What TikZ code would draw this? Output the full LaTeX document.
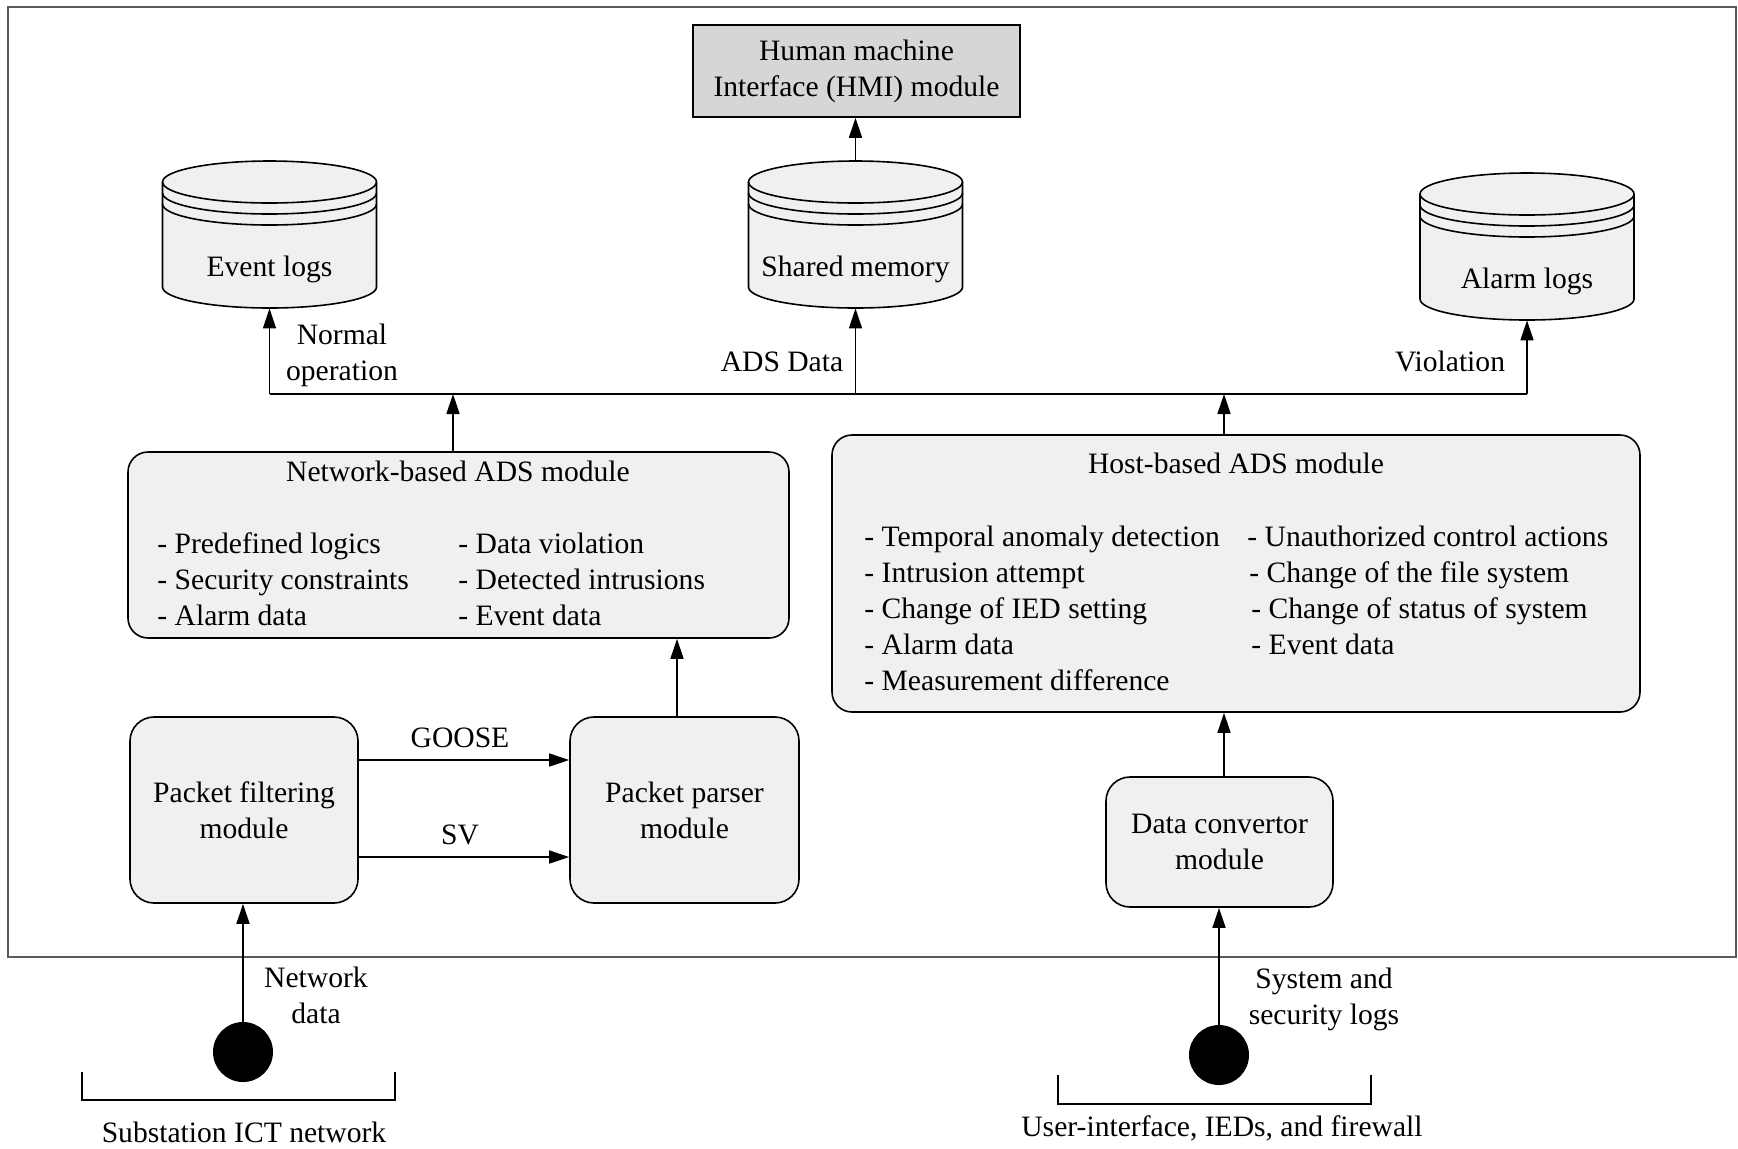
\documentclass[tikz,border=0pt]{standalone}
\usepackage{fontspec}
\setmainfont{Liberation Serif}
\usetikzlibrary{arrows.meta,calc}
\definecolor{boxfill}{HTML}{F0F0F0}
\definecolor{hmifill}{HTML}{D6D6D6}
\definecolor{framecol}{HTML}{5A5A5A}
\tikzset{
 box/.style={draw, line width=0.8pt, fill=boxfill, rounded corners=10pt, inner sep=0pt},
 arr/.style={line width=0.8pt, -{Triangle[length=10pt,width=6.5pt]}},
 conn/.style={line width=0.8pt},
 lbl/.style={anchor=base, inner sep=0pt},
 item/.style={anchor=base west, inner sep=0pt},
 two/.style={align=center, inner sep=0pt},
}
\newcommand{\dbcyl}[4]{%
 \fill[boxfill] ({#2-107},{-#3}) -- ({#2-107},{-#3-105}) arc[start angle=180,end angle=360,x radius=53.5pt,y radius=10.5pt] -- ({#2+107},{-#3}) arc[start angle=0,end angle=180,x radius=53.5pt,y radius=10.5pt] -- cycle;
 \draw[conn] ({#2-107},{-#3}) -- ({#2-107},{-#3-105}) arc[start angle=180,end angle=360,x radius=53.5pt,y radius=10.5pt] -- ({#2+107},{-#3});
 \draw[conn] (#2,{-#3}) ellipse[x radius=53.5pt,y radius=10.5pt];
 \draw[conn] ({#2-107},{-#3-11}) arc[start angle=180,end angle=360,x radius=53.5pt,y radius=10.5pt];
 \draw[conn] ({#2-107},{-#3-22}) arc[start angle=180,end angle=360,x radius=53.5pt,y radius=10.5pt];
 \node[inner sep=0pt, minimum width=107pt, minimum height=73.5pt] (#1) at (#2,{-#3-52.5}) {};
 \node[lbl] at (#2,{-#3-94}) {#4};
}
\begin{document}
\begin{tikzpicture}[x=0.5pt,y=0.5pt,font=\fontsize{14.8}{18}\selectfont]
\useasboundingbox (0,0) rectangle (1738,-1148);
\draw[framecol, line width=1.3pt] (8,-7) rectangle (1736,-957);

\node[draw, line width=0.8pt, fill=hmifill, minimum width=163.5pt, minimum height=46pt, align=center, inner sep=0pt] (hmi) at (856.5,-71) {Human machine\\Interface (HMI) module};

\dbcyl{evt}{269.5}{182}{Event logs}
\dbcyl{shm}{855.5}{182}{Shared memory}
\dbcyl{alm}{1527}{194}{Alarm logs}

\node[box, minimum width=330.5pt, minimum height=93pt] (nads) at (458.5,-545) {};
\node[lbl] at (458,-481) {Network-based ADS module};
\node[item] at (157,-553) {- Predefined logics};
\node[item] at (157,-589) {- Security constraints};
\node[item] at (157,-625) {- Alarm data};
\node[item] at (458,-553) {- Data violation};
\node[item] at (458,-589) {- Detected intrusions};
\node[item] at (458,-625) {- Event data};

\node[box, minimum width=404pt, minimum height=138.5pt] (hads) at (1236,-573.5) {};
\node[lbl] at (1236,-473) {Host-based ADS module};
\node[item] at (864,-546) {- Temporal anomaly detection};
\node[item] at (864,-582) {- Intrusion attempt};
\node[item] at (864,-618) {- Change of IED setting};
\node[item] at (864,-654) {- Alarm data};
\node[item] at (864,-690) {- Measurement difference};
\node[item] at (1247,-546) {- Unauthorized control actions};
\node[item] at (1249,-582) {- Change of the file system};
\node[item] at (1251,-618) {- Change of status of system};
\node[item] at (1251,-654) {- Event data};

\node[box, rounded corners=12pt, minimum width=114pt, minimum height=93pt, align=center] (pf) at (244,-810) {Packet filtering\\module};
\node[box, rounded corners=12pt, minimum width=114.5pt, minimum height=93pt, align=center] (pp) at (684.5,-810) {Packet parser\\module};
\node[box, rounded corners=12pt, minimum width=113.5pt, minimum height=65pt, align=center] (conv) at (1219.5,-842) {Data convertor\\module};

\node[circle, fill=black, minimum size=30pt, inner sep=0pt] (netc) at (243,-1052) {};
\node[circle, fill=black, minimum size=30pt, inner sep=0pt] (sysc) at (1219,-1055) {};

\coordinate (bus) at (0,-394);
\coordinate (jE) at (evt.south |- bus);
\coordinate (jN) at (453,-394);
\coordinate (jS) at (shm.south |- bus);
\coordinate (jH) at (1224,-394);
\coordinate (jA) at (alm.south |- bus);
\draw[conn] (jE) -- (jA);
\draw[arr] (jE) -- (evt.south);
\draw[arr] (jS) -- (shm.south);
\draw[arr] (jA) -- (alm.south);
\draw[arr] (jN |- nads.north) -- (jN);
\draw[arr] (jH |- hads.north) -- (jH);
\draw[arr] (shm.north) -- (shm.north |- hmi.south);
\coordinate (ppx) at (677,0);
\draw[arr] (ppx |- pp.north) -- (ppx |- nads.south);
\coordinate (gy) at (0,-760);
\coordinate (sy) at (0,-857);
\draw[arr] (pf.east |- gy) -- (pp.west |- gy);
\draw[arr] (pf.east |- sy) -- (pp.west |- sy);
\draw[arr] (jH |- conv.north) -- (jH |- hads.south);
\draw[arr] (netc.north) -- (netc.north |- pf.south);
\draw[arr] (sysc.north) -- (sysc.north |- conv.south);

\node[two] at (342,-355) {Normal\\operation};
\node[lbl] at (782,-371) {ADS Data};
\node[lbl] at (1450,-371) {Violation};
\node[lbl] at (460,-747) {GOOSE};
\node[lbl] at (460,-844) {SV};
\node[two] at (316,-995) {Network\\data};
\node[two] at (1324,-999.5) {System and\\security logs};

\draw[conn] (82,-1072) -- (82,-1100) -- (395,-1100) -- (395,-1072);
\draw[conn] (1058,-1075) -- (1058,-1104) -- (1371,-1104) -- (1371,-1075);
\node[lbl] at (244,-1142) {Substation ICT network};
\node[lbl] at (1222,-1136) {User-interface, IEDs, and firewall};
\end{tikzpicture}
\end{document}
